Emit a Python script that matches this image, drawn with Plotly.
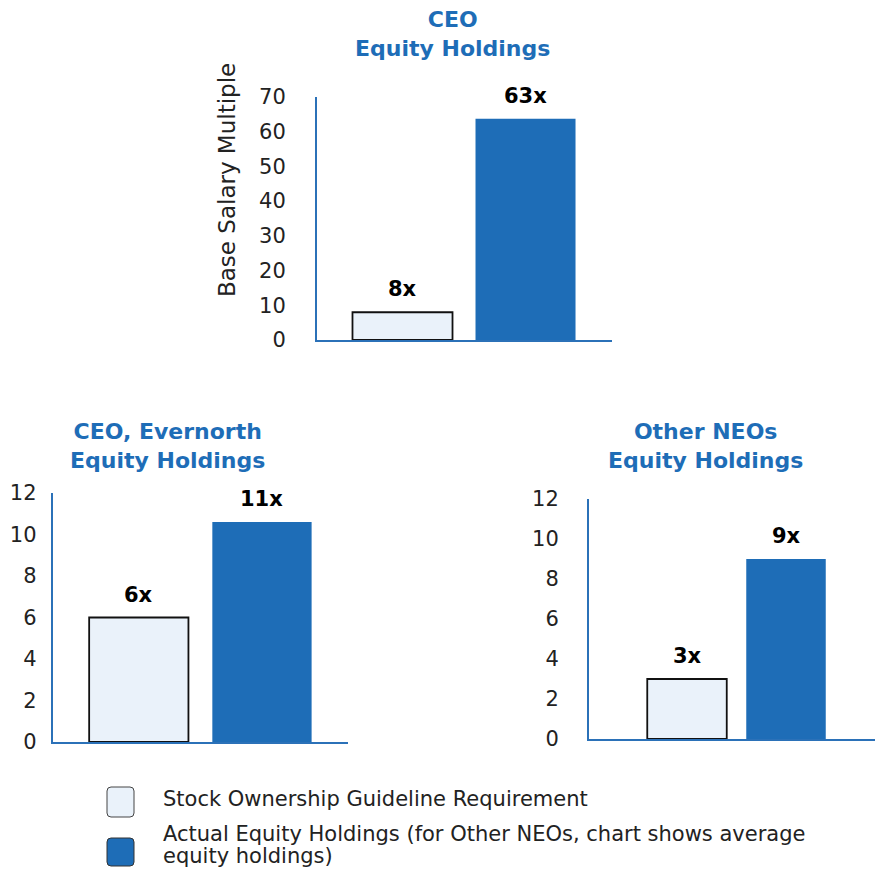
import plotly.graph_objects as go

# ---------------- data ----------------
categories = ["Guideline", "Actual"]
panel_titles = ["CEO<br>Equity Holdings",
                "CEO, Evernorth<br>Equity Holdings",
                "Other NEOs<br>Equity Holdings"]
guideline_values = [8, 6, 3]
actual_values = [63.7, 10.6, 9.0]
guideline_labels = ["8x", "6x", "3x"]
actual_labels = ["63x", "11x", "9x"]
y_max = [70, 12, 12]
y_dtick = [10, 2, 2]
y_title = "Base Salary Multiple"
legend_labels = ["Stock Ownership Guideline Requirement",
                 "Actual Equity Holdings (for Other NEOs, chart shows average<br>equity holdings)"]

# ---------------- style ----------------
W, H = 875, 870
BLUE = "#1e6db7"
LIGHT = "#eaf2fa"
AXIS = "#2b71b8"
TXT = "#222222"
FONT = "DejaVu Sans"

# pixel layout per panel: x-domain, y-domain (top,bottom), x range, bar width, title centre, standoff
panels = [
    dict(x=(317, 612), y=(97, 340), xr=(-0.695, 1.703), bw=0.813, tx=452, ty=34, so=25),
    dict(x=(52.7, 347.7), y=(493, 742), xr=(-0.699, 1.696), bw=0.806, tx=167, ty=446, so=10),
    dict(x=(589, 875), y=(499, 739), xr=(-0.99, 1.899), bw=0.803, tx=705, ty=446, so=24),
]

def px(x):
    return x / W

def py(y):
    return 1 - y / H

fig = go.Figure()
annotations = []
layout = {}

for i, p in enumerate(panels):
    n = "" if i == 0 else str(i + 1)
    xa, ya = "x" + n, "y" + n
    fig.add_trace(go.Bar(x=[categories[0]], y=[guideline_values[i]], width=p["bw"],
                         marker=dict(color=LIGHT, line=dict(color="#111111", width=1.8)),
                         xaxis=xa, yaxis=ya, name="Stock Ownership Guideline Requirement",
                         showlegend=False, hoverinfo="skip"))
    fig.add_trace(go.Bar(x=[categories[1]], y=[actual_values[i]], width=p["bw"],
                         marker=dict(color=BLUE, line=dict(width=0)),
                         xaxis=xa, yaxis=ya, name="Actual Equity Holdings",
                         showlegend=False, hoverinfo="skip"))
    layout["xaxis" + n] = dict(domain=[px(p["x"][0]), min(1.0, px(p["x"][1]))], anchor=ya,
                               type="category", categoryorder="array", categoryarray=categories,
                               range=list(p["xr"]), showticklabels=False, showgrid=False,
                               zeroline=False, showline=True, linecolor=AXIS, linewidth=2,
                               ticks="", fixedrange=True, automargin=False)
    layout["yaxis" + n] = dict(domain=[py(p["y"][1]), py(p["y"][0])], anchor=xa,
                               range=[0, y_max[i]],
                               tickvals=list(range(0, y_max[i] + 1, y_dtick[i])),
                               tickfont=dict(family=FONT, size=21, color=TXT),
                               ticklabelstandoff=p["so"],
                               showgrid=False, zeroline=False, showline=True,
                               linecolor=AXIS, linewidth=2, ticks="", fixedrange=True,
                               automargin=False)
    # data labels
    for cat, val, lab in [(categories[0], guideline_values[i], guideline_labels[i]),
                          (categories[1], actual_values[i], actual_labels[i])]:
        annotations.append(dict(x=cat, y=val, xref=xa, yref=ya, text="<b>%s</b>" % lab,
                                showarrow=False, yanchor="bottom", yshift=9,
                                font=dict(family=FONT, size=21, color="#000000")))
    # panel titles
    annotations.append(dict(x=px(p["tx"]), y=py(p["ty"]), xref="paper", yref="paper",
                            text="<b>%s</b>" % panel_titles[i].replace("<br>", "</b><br><b>"),
                            showarrow=False, xanchor="center", yanchor="middle",
                            font=dict(family=FONT, size=22, color=BLUE)))

# y-axis title of the first panel
annotations.append(dict(x=px(227), y=py(180), xref="paper", yref="paper", text=y_title,
                        textangle=-90, showarrow=False, xanchor="center", yanchor="middle",
                        font=dict(family=FONT, size=23, color=TXT)))

# custom legend
def rounded_rect(x0, y0, x1, y1, r=4):
    X0, X1 = px(x0), px(x1)
    Y0, Y1 = py(y0), py(y1)
    rx, ry = r / W, r / H
    return (f"M {X0+rx},{Y0} L {X1-rx},{Y0} Q {X1},{Y0} {X1},{Y0-ry} "
            f"L {X1},{Y1+ry} Q {X1},{Y1} {X1-rx},{Y1} L {X0+rx},{Y1} "
            f"Q {X0},{Y1} {X0},{Y1+ry} L {X0},{Y0-ry} Q {X0},{Y0} {X0+rx},{Y0} Z")

shapes = [
    dict(type="path", xref="paper", yref="paper", path=rounded_rect(107, 787, 134, 817),
         fillcolor=LIGHT, line=dict(color="#444444", width=1)),
    dict(type="path", xref="paper", yref="paper", path=rounded_rect(107, 838, 134, 866),
         fillcolor=BLUE, line=dict(color="#333333", width=1)),
]
legend_lines = [(legend_labels[0], 799)] + list(zip(legend_labels[1].split("<br>"), [834, 856]))
for txt, yc in legend_lines:
    annotations.append(dict(x=px(162), y=py(yc), xref="paper", yref="paper", text=txt,
                            showarrow=False, xanchor="left", yanchor="middle", align="left",
                            borderpad=0,
                            font=dict(family=FONT, size=21, color=TXT)))

fig.update_layout(width=W, height=H, margin=dict(l=0, r=0, t=0, b=0, autoexpand=False),
                  paper_bgcolor="white", plot_bgcolor="white", barmode="overlay",
                  showlegend=False, annotations=annotations, shapes=shapes, **layout)

fig.write_html("out.html", config={"displayModeBar": False},
               post_script="document.body.style.margin='0';document.body.style.overflow='hidden';")
